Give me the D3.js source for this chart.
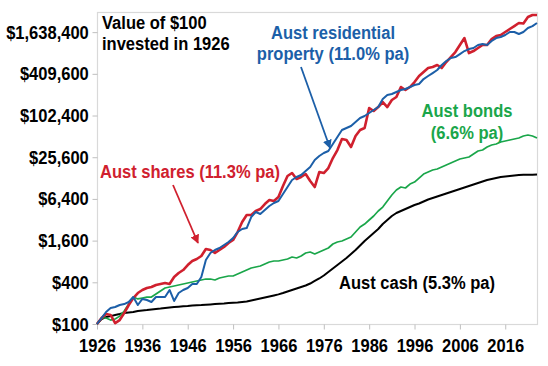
<!DOCTYPE html>
<html><head><meta charset="utf-8">
<script src="https://cdn.jsdelivr.net/npm/d3@7"></script>
<style>
html,body{margin:0;padding:0;background:#fff;}
svg{display:block;}
text{font-family:"Liberation Sans",Arial,sans-serif;font-weight:bold;}
</style></head><body>
<svg id="c" width="548" height="366"></svg>
<script>
// ---- data (value of $100 invested in 1926, end of each year) ----
const firstYear = 1926;
const lastYear = 2023;
const years = d3.range(firstYear, lastYear + 1);

const shares = [100,122,139,135,103,114,144,188,237,280,
  310,331,342,366,378,391,378,477,545,602,
  711,812,868,959,1210,1171,1059,1171,1293,1477,
  1632,2129,2969,3748,3748,4281,4573,5400,6169,5968,
  6817,9820,13700,15140,12400,13250,14640,11600,9510,15650,
  15140,17880,24930,32520,46880,45350,35930,51810,63210,67560,
  131300,118900,135800,160400,135800,171400,189400,264100,239000,264100,
  311700,380600,434700,496600,513400,548700,496600,606400,715500,845200,
  1067000,1346000,817400,873800,965500,1067000,1067000,1302000,1439000,1488000,
  1644000,1816000,2006000,2217000,2180000,2706000,2892000,2892000];

const property = [100,122,149,170,176,188,194,208,245,188,
  230,222,208,245,245,245,310,215,280,310,
  331,378,378,477,839,1059,1171,1251,1382,1527,
  1745,2129,2352,2432,3507,4141,3875,4426,5053,5583,
  5968,7530,9510,11990,13250,14160,16180,18480,23330,26630,
  29430,31450,39700,50120,63210,67560,72210,82500,94220,100700,
  111300,122900,135800,177200,202400,209300,223700,239000,247100,264100,
  282200,291700,344400,380600,420400,464600,548700,626900,692700,715500,
  790700,873800,933800,965500,1067000,1103000,1067000,1219000,1346000,1392000,
  1488000,1644000,1644000,1538000,1644000,1878000,2006000,2217000];

const bonds = [100,122,122,114,118,130,154,194,245,230,
  237,245,245,271,300,331,342,354,366,378,
  391,404,418,432,446,446,432,461,477,493,
  493,527,563,602,644,665,687,735,785,812,
  812,839,868,927,897,959,1059,1095,1025,1095,
  1171,1251,1429,1527,1579,1688,1804,2129,2514,2778,
  3174,3625,4281,4888,5968,7286,8605,9510,9197,10500,
  11220,12820,14640,15650,16730,17290,18480,19750,21110,22570,
  24120,24930,25800,28470,31450,32520,35930,38400,39700,42430,
  43860,45350,46880,48470,51810,53560,51810,48470];

const cash = [100,118,126,130,135,139,144,147,149,154,
  157,159,162,165,167,170,173,176,178,180,
  182,185,187,188,190,192,194,196,198,201,
  203,205,208,211,218,226,233,241,249,258,
  268,280,295,310,326,342,360,384,418,454,
  501,563,633,711,798,897,1025,1171,1359,1579,
  1804,2059,2352,2778,3174,3625,4005,4281,4573,4888,
  5224,5491,5869,6274,6595,6932,7286,7658,8050,8460,
  8890,9350,9820,10330,10850,11410,11990,12400,12820,13250,
  13470,13700,13930,14160,14250,14300,14300,14400];

const yTicks = [100,400,1600,6400,25600,102400,409600,1638400];
const xTicks = [1926,1936,1946,1956,1966,1976,1986,1996,2006,2016];

// ---- layout ----
const svg = d3.select("#c");
const L = 97, R = 537, T = 12, B = 324;
const SX = 0.87;           // horizontal text compression
const FS = "19px";

const x = d3.scaleLinear().domain([firstYear, lastYear]).range([L, R]);
const y = d3.scaleLog().domain([100, 3200000]).range([B, T]);

// plot frame
svg.append("rect").attr("x", L + 0.5).attr("y", T + 0.5)
  .attr("width", R - L).attr("height", B - T)
  .attr("fill", "none").attr("stroke", "#d9d9d9").attr("stroke-width", 1.2);

// y axis
const gy = svg.append("g").attr("transform", `translate(${L + 0.5},0)`)
  .call(d3.axisLeft(y).tickValues(yTicks).tickSize(5).tickPadding(5)
    .tickFormat(d => "$" + d3.format(",")(d)));
gy.select(".domain").remove();
gy.selectAll(".tick line").attr("stroke", "#bfbfbf");
gy.selectAll(".tick text").attr("font-size", FS).attr("fill", "#000")
  .attr("font-family", "Liberation Sans, Arial, sans-serif")
  .attr("transform", `scale(${SX},1)`);

// x axis
const gx = svg.append("g").attr("transform", `translate(0,${B + 0.5})`)
  .call(d3.axisBottom(x).tickValues(xTicks).tickSize(5).tickPadding(9)
    .tickFormat(d3.format("d")));
gx.select(".domain").remove();
gx.selectAll(".tick line").attr("stroke", "#bfbfbf");
gx.selectAll(".tick text").attr("font-size", FS).attr("fill", "#000")
  .attr("font-family", "Liberation Sans, Arial, sans-serif")
  .attr("transform", `scale(${SX},1)`);

// lines
const line = d3.line().x((d, i) => x(years[i])).y(d => y(d));
const series = [
  {vals: cash, color: "#000000", w: 2},
  {vals: bonds, color: "#1aa64a", w: 1.7},
  {vals: shares, color: "#d0202e", w: 2.6},
  {vals: property, color: "#1c5fa8", w: 2}
];
svg.append("g").selectAll("path").data(series).join("path")
  .attr("d", s => line(s.vals)).attr("fill", "none")
  .attr("stroke", s => s.color).attr("stroke-width", s => s.w)
  .attr("stroke-linejoin", "round");

// annotations
function label(txt, px, py, color, anchor) {
  svg.append("text").text(txt)
    .attr("transform", `translate(${px},${py}) scale(${SX},1)`)
    .attr("font-size", FS).attr("fill", color)
    .attr("text-anchor", anchor || "start");
}
label("Value of $100", 102, 29, "#000");
label("invested in 1926", 102, 50, "#000");
label("Aust residential", 333, 39, "#1c5fa8", "middle");
label("property (11.0% pa)", 333, 60, "#1c5fa8", "middle");
label("Aust shares (11.3% pa)", 100, 178, "#d0202e");
label("Aust bonds", 467, 117, "#1aa64a", "middle");
label("(6.6% pa)", 467, 139, "#1aa64a", "middle");
label("Aust cash (5.3% pa)", 417, 289, "#000", "middle");

// arrows
const defs = svg.append("defs");
[["ab", "#1c5fa8"], ["ar", "#d0202e"]].forEach(([id, c]) => {
  defs.append("marker").attr("id", id).attr("viewBox", "0 0 10 10")
    .attr("refX", 9).attr("refY", 5).attr("markerWidth", 5).attr("markerHeight", 5)
    .attr("markerUnits", "strokeWidth").attr("orient", "auto")
    .append("path").attr("d", "M0,0 L10,5 L0,10 Z").attr("fill", c);
});
svg.append("line").attr("x1", 301).attr("y1", 67).attr("x2", 330).attr("y2", 148)
  .attr("stroke", "#1c5fa8").attr("stroke-width", 1.8).attr("marker-end", "url(#ab)");
svg.append("line").attr("x1", 173).attr("y1", 185).attr("x2", 198).attr("y2", 243)
  .attr("stroke", "#d0202e").attr("stroke-width", 1.8).attr("marker-end", "url(#ar)");
</script>
</body></html>
